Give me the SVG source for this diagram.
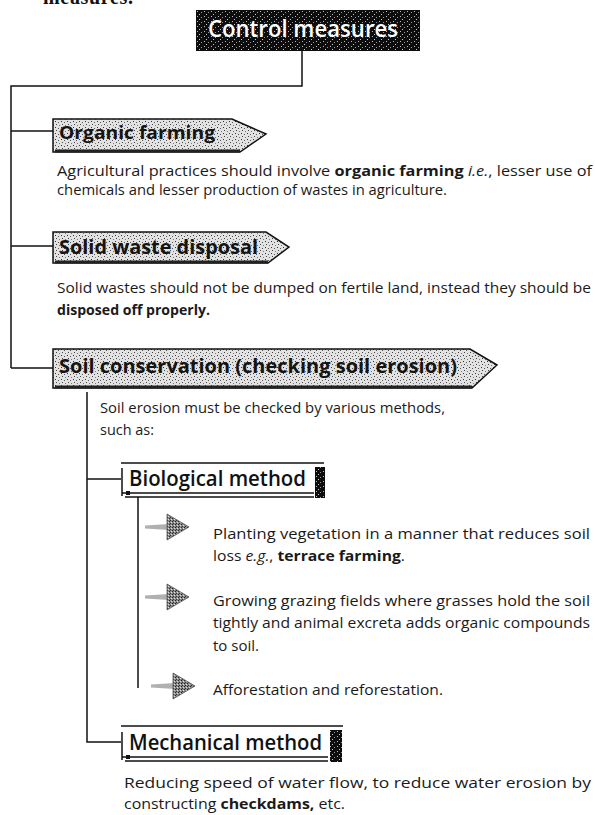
<svg xmlns="http://www.w3.org/2000/svg" width="595" height="815" viewBox="0 0 595 815">
<defs>
<pattern id="stip" width="6" height="6" patternUnits="userSpaceOnUse">
<rect width="6" height="6" fill="#e2e2e2"/>
<rect x="1" y="1" width="1" height="1" fill="#333"/>
<rect x="4" y="2" width="1" height="1" fill="#555"/>
<rect x="2" y="4" width="1" height="1" fill="#444"/>
<rect x="5" y="5" width="1" height="1" fill="#777"/>
</pattern>
<pattern id="dark" width="7" height="5" patternUnits="userSpaceOnUse">
<rect width="7" height="5" fill="#0d0d0d"/>
<rect x="1" y="1" width="1" height="1" fill="#bbb"/>
<rect x="5" y="2" width="1" height="1" fill="#999"/>
<rect x="3" y="4" width="1" height="1" fill="#ccc"/>
</pattern>
<pattern id="head" width="3" height="3" patternUnits="userSpaceOnUse">
<rect width="3" height="3" fill="#8a8a8a"/>
<rect x="0" y="0" width="1" height="1" fill="#222"/>
<rect x="2" y="1" width="1" height="1" fill="#ddd"/>
<rect x="1" y="2" width="1" height="1" fill="#333"/>
</pattern>
<g id="arrow">
<path d="M0,-1.5 L24,-3 L24,3 L0,1.5 Z" fill="#b0b0b0"/>
<path d="M22,-13 L44,0 L22,13 Z" fill="url(#head)" stroke="#555" stroke-width="0.8"/>
</g>
</defs>
<style>
.body{font-family:"Open Sans","Liberation Sans",sans-serif;font-size:15px;fill:#1a1a1a}
.b{font-weight:700}
.i{font-style:italic}
.lbl{font-family:"Open Sans","Liberation Sans",sans-serif;font-weight:700;fill:#141414}
.meth{font-family:"Open Sans","Liberation Sans",sans-serif;font-weight:600;font-size:21px;fill:#111}
.ln{stroke:#111;stroke-width:1.5;fill:none}
.box{fill:url(#stip);stroke:#111;stroke-width:1.5}
.shadow{stroke:#222;stroke-width:3;fill:none}
</style>

<text x="43" y="4" font-family="Liberation Serif, serif" font-weight="700" font-size="20" textLength="90" fill="#111">measures.</text>

<g id="connectors">
<path class="ln" d="M302,51 V86 H11 V368"/>
<path class="ln" d="M11,131 H53"/>
<path class="ln" d="M11,246 H53"/>
<path class="ln" d="M11,368 H53"/>
<path class="ln" d="M87,392 V742 H121"/>
<path class="ln" d="M87,479 H121"/>
<path class="ln" d="M138,497 V688"/>
</g>

<g id="control-measures">
<rect x="196" y="10" width="224" height="41" fill="url(#dark)"/>
<text x="208" y="37" font-family="Open Sans, Liberation Sans, sans-serif" font-weight="600" font-size="23" fill="#fff" textLength="190" lengthAdjust="spacingAndGlyphs">Control measures</text>
</g>

<g id="organic-farming">
<path class="box" d="M53,119 H232 L266,134 L240,152 H53 Z"/>
<path class="shadow" d="M55,151 H240"/>
<text class="lbl" x="59" y="139" font-size="18" textLength="156" lengthAdjust="spacingAndGlyphs">Organic farming</text>
<text class="body" x="57" y="176" textLength="535" lengthAdjust="spacingAndGlyphs">Agricultural practices should involve <tspan class="b">organic farming</tspan> <tspan class="i">i.e.</tspan>, lesser use of</text>
<text class="body" x="57" y="195" textLength="390" lengthAdjust="spacingAndGlyphs">chemicals and lesser production of wastes in agriculture.</text>
</g>

<g id="solid-waste-disposal">
<path class="box" d="M53,232 H266 L289,247 L268,263 H53 Z"/>
<path class="shadow" d="M55,262 H268"/>
<text class="lbl" x="59" y="254" font-size="19" textLength="199" lengthAdjust="spacingAndGlyphs">Solid waste disposal</text>
<text class="body" x="57" y="293" textLength="534" lengthAdjust="spacingAndGlyphs">Solid wastes should not be dumped on fertile land, instead they should be</text>
<text class="body b" x="57" y="315" textLength="153" lengthAdjust="spacingAndGlyphs">disposed off properly.</text>
</g>

<g id="soil-conservation">
<path class="box" d="M53,349 H470 L497,365 L472,388 H53 Z"/>
<path class="shadow" d="M55,387 H472"/>
<text class="lbl" x="59" y="373" font-size="20" font-weight="600" textLength="398" lengthAdjust="spacingAndGlyphs">Soil conservation (checking soil erosion)</text>
<text class="body" x="100" y="413" textLength="345" lengthAdjust="spacingAndGlyphs">Soil erosion must be checked by various methods,</text>
<text class="body" x="100" y="435" textLength="54" lengthAdjust="spacingAndGlyphs">such as:</text>
</g>

<g id="biological-method">
<path class="ln" d="M121,463 H324"/>
<path class="ln" d="M122,468 V496"/>
<path class="ln" d="M122,493 H314 M125,497 H314"/>
<rect x="315" y="467" width="10" height="31" fill="url(#dark)"/>
<rect x="126" y="491" width="4" height="4" fill="#111"/>
<text class="meth" x="129" y="486" textLength="177" lengthAdjust="spacingAndGlyphs">Biological method</text>
</g>

<g id="item-planting">
<use href="#arrow" x="145" y="527"/>
<text class="body" x="213" y="539" textLength="377" lengthAdjust="spacingAndGlyphs">Planting vegetation in a manner that reduces soil</text>
<text class="body" x="213" y="561" textLength="192" lengthAdjust="spacingAndGlyphs">loss <tspan class="i">e.g.</tspan>, <tspan class="b">terrace farming</tspan>.</text>
</g>

<g id="item-grazing">
<use href="#arrow" x="145" y="597"/>
<text class="body" x="213" y="606" textLength="377" lengthAdjust="spacingAndGlyphs">Growing grazing fields where grasses hold the soil</text>
<text class="body" x="213" y="628" textLength="377" lengthAdjust="spacingAndGlyphs">tightly and animal excreta adds organic compounds</text>
<text class="body" x="213" y="651" textLength="46" lengthAdjust="spacingAndGlyphs">to soil.</text>
</g>

<g id="item-afforestation">
<use href="#arrow" x="151" y="686"/>
<text class="body" x="213" y="695" textLength="230" lengthAdjust="spacingAndGlyphs">Afforestation and reforestation.</text>
</g>

<g id="mechanical-method">
<path class="ln" d="M121,726 H343"/>
<path class="ln" d="M122,732 V760"/>
<path class="ln" d="M122,757 H328 M125,761 H328"/>
<rect x="330" y="730" width="12" height="32" fill="url(#dark)"/>
<rect x="126" y="755" width="4" height="4" fill="#111"/>
<text class="meth" x="129" y="750" textLength="193" lengthAdjust="spacingAndGlyphs">Mechanical method</text>
<text class="body" x="124" y="788" textLength="467" lengthAdjust="spacingAndGlyphs">Reducing speed of water flow, to reduce water erosion by</text>
<text class="body" x="124" y="809" textLength="221" lengthAdjust="spacingAndGlyphs">constructing <tspan class="b">checkdams,</tspan> etc.</text>
</g>
</svg>
